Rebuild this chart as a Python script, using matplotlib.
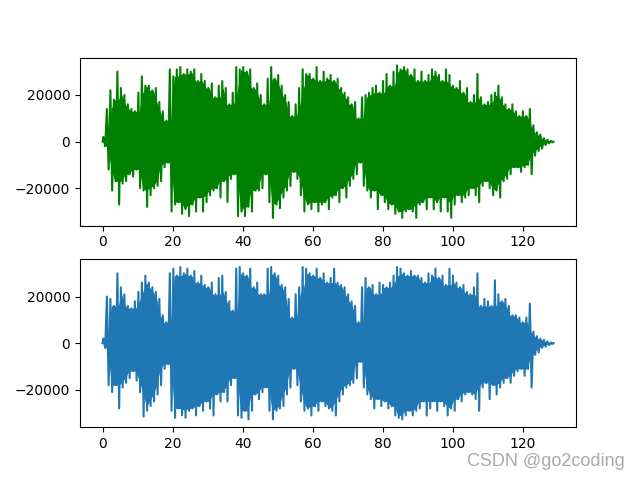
import numpy as np
import matplotlib
matplotlib.use("Agg")
import matplotlib.pyplot as plt

# duration of the clip in seconds
duration = 128.8

# per-second peak envelope (thousands of int16 units), channel 1 (green)
ch1_upper = [2, 14, 22, 18, 30, 23, 20, 16, 14, 13,
             21, 28, 24, 24, 22, 23, 17, 13, 9, 31,
             28, 31, 32, 29, 31, 30, 31, 26, 29, 26,
             23, 25, 19, 24, 26, 23, 16, 21, 32, 31,
             32, 30, 31, 23, 25, 20, 16, 27, 32, 27,
             28.6, 24, 20, 17, 11, 16, 23, 31, 29, 29,
             27, 32, 26, 30, 27, 28.6, 26, 27, 23, 21,
             19, 16, 17, 10, 19, 20, 21, 23, 24, 21,
             26, 29, 24, 30, 32.7, 31, 32, 31, 28.6, 31,
             26, 30, 26, 28.6, 31, 30, 28.6, 26, 31, 28.6,
             24, 23, 26, 21, 23, 17, 20, 29, 19, 16,
             17, 20, 21, 24, 19, 16, 14, 16, 13, 11,
             13, 11, 14, 7, 4, 3, 1.5, 0.8, 0.3]
ch1_lower = [-2, -12, -21, -17, -27, -18, -17, -14, -15, -12,
             -20, -21, -28, -23, -20, -19, -17, -11, -9, -30,
             -27, -26, -31, -29, -32, -27, -30, -24, -30, -26,
             -23, -21, -20, -24, -17, -26, -16, -14, -32, -30,
             -32, -28, -30, -21, -21, -20, -14, -26, -32.7, -27,
             -28.6, -24, -21, -19, -13, -16, -23, -30, -27, -29,
             -26, -30, -27, -26, -29, -24, -23, -26, -20, -24,
             -19, -16, -14, -9, -19, -21, -24, -21, -29, -23,
             -26, -29, -27, -31, -30, -32.7, -30, -29, -30, -32.7,
             -27, -26, -29, -24, -29, -26, -30, -24, -30, -32.7,
             -27, -23, -26, -24, -23, -20, -23, -26, -19, -17,
             -20, -23, -21, -24, -17, -16, -14, -11, -11, -13,
             -11, -10, -14, -6, -4, -3, -1.5, -0.8, -0.3]

# channel 2 (blue)
ch2_upper = [2, 20, 19, 16, 30, 24, 21, 16, 15, 18,
             22, 26, 29, 26, 24, 22, 19, 12, 9, 30,
             32, 29, 32.7, 30, 32, 29, 31, 26, 29, 25,
             24, 26, 21, 28, 29, 22, 18, 14, 32, 32.7,
             30, 29, 32, 24, 26, 21, 21, 32, 32.7, 30,
             29, 25, 24, 19, 11, 21, 24, 32.7, 32, 30,
             29, 32, 28, 30, 26, 28, 32, 26, 25, 24,
             21, 18, 16, 9, 24, 28, 24, 25, 21, 26,
             25, 24, 26, 29, 32.7, 32, 30, 29, 31, 29,
             29, 28, 26, 30, 29, 32, 28, 29, 25, 32,
             29, 26, 24, 25, 22, 21, 24, 30, 16, 19,
             18, 16, 27, 21, 18, 19, 16, 12, 12, 11,
             9, 11, 17, 5, 3, 2, 1.5, 0.8, 0.3]
ch2_lower = [-2, -18, -21, -18, -28, -19, -17, -15, -12, -16,
             -21, -31.5, -29, -27, -25, -22, -18, -11, -9, -29,
             -32, -28, -31, -32, -29, -28, -31, -27, -29, -25,
             -28, -31, -22, -25, -21, -25, -18, -15, -31, -32,
             -29, -32.7, -29, -22, -24, -21, -19, -29, -32.7, -29,
             -28, -27, -22, -19, -11, -18, -25, -29, -28, -31,
             -27, -29, -25, -27, -28, -29, -31, -25, -22, -19,
             -18, -17, -15, -8, -19, -22, -24, -28, -24, -27,
             -25, -28, -27, -31, -32, -32.7, -31, -29, -31, -29,
             -28, -25, -31, -28, -25, -29, -25, -27, -31, -28,
             -29, -24, -25, -22, -21, -22, -24, -29, -19, -17,
             -24, -18, -22, -19, -17, -15, -17, -14, -12, -11,
             -14, -11, -19, -5, -4, -2, -1.5, -0.8, -0.3]


def waveform(upper, lower):
    """Interleave the per-second peaks into one zig-zag trace."""
    n = min(len(upper), len(lower))
    up = np.asarray(upper[:n], dtype=float) * 1000.0
    lo = np.asarray(lower[:n], dtype=float) * 1000.0
    step = duration / n
    sec = np.arange(n, dtype=float) * step
    t = np.empty(2 * n)
    v = np.empty(2 * n)
    t[0::2] = sec + 0.25 * step
    t[1::2] = sec + 0.75 * step
    v[0::2] = up
    v[1::2] = lo
    t = np.concatenate([[0.0], t, [duration]])
    v = np.concatenate([[0.0], v, [0.0]])
    # dense body of the signal: the smaller of neighbouring peaks
    upad = np.concatenate([[up[0]], up, [up[-1]]])
    lpad = np.concatenate([[lo[0]], lo, [lo[-1]]])
    body_up = np.minimum(np.minimum(upad[:-2], upad[1:-1]), upad[2:])
    body_lo = np.maximum(np.maximum(lpad[:-2], lpad[1:-1]), lpad[2:])
    return t, v, sec + 0.5 * step, body_up, body_lo


fig, axes = plt.subplots(2, 1, figsize=(6.4, 4.8), dpi=100)

for ax, (u, l), col in zip(axes, [(ch1_upper, ch1_lower), (ch2_upper, ch2_lower)],
                            ["green", "#1f77b4"]):
    t, v, tc, bu, bl = waveform(u, l)
    ax.plot(t, np.clip(v, -32768, 32767), color=col)
    ax.fill_between(tc, bu, bl, color=col, linewidth=0)
    ax.set_ylim(-36044, 36044)

fig.text(0.9766, 0.0298, "CSDN @go2coding", ha="right", va="baseline",
         fontsize=13, color="#aaaaaa", family="Liberation Sans")

fig.savefig("out.png", dpi=100)
